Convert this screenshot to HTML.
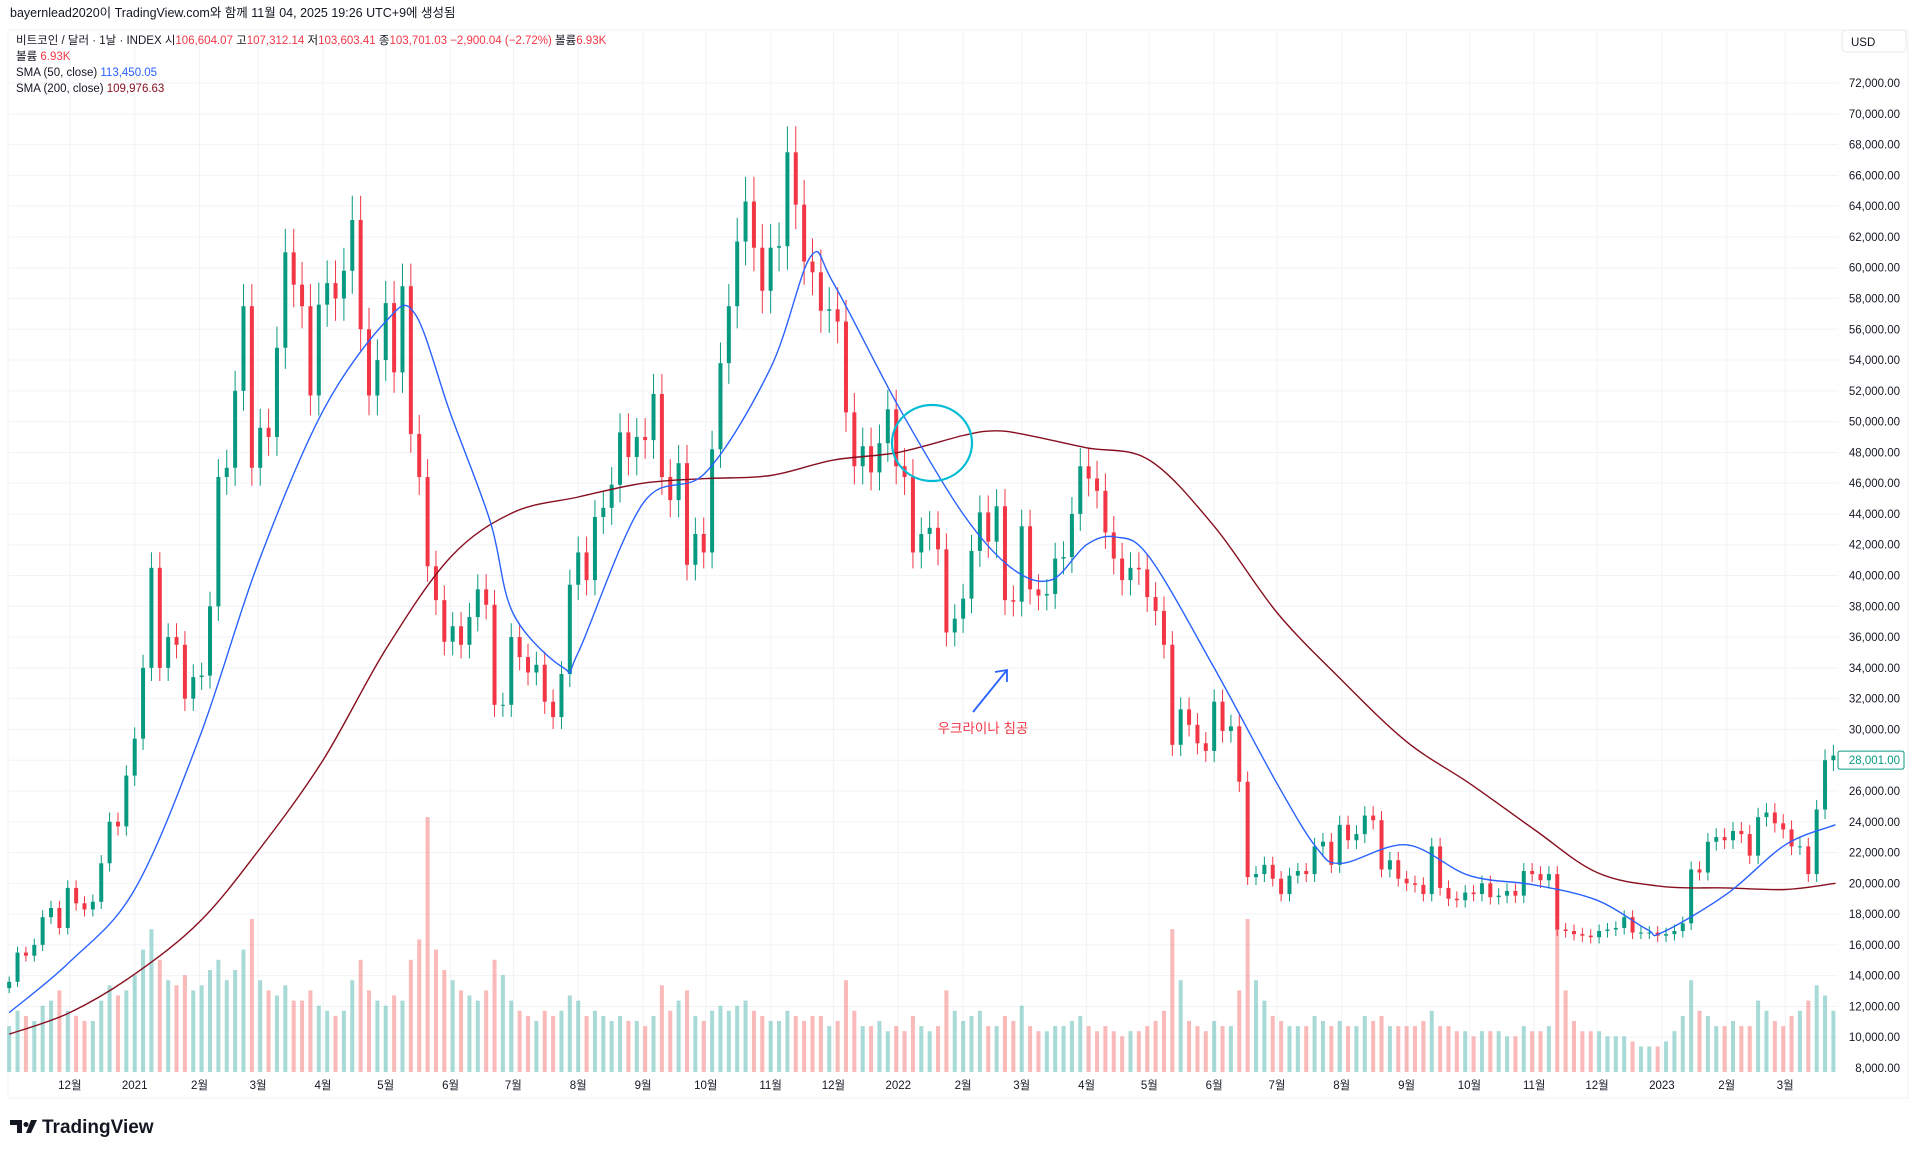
<!DOCTYPE html>
<html><head><meta charset="utf-8">
<style>
html,body{margin:0;padding:0;background:#fff;width:1920px;height:1155px;overflow:hidden;font-family:"Liberation Sans","Noto Sans CJK KR",sans-serif;}
svg{position:absolute;left:0;top:0}
</style></head>
<body>
<svg id="chart" width="1920" height="1155">
  <rect x="8" y="30" width="1900" height="1068" fill="none" stroke="#eef0f4"/>
  <g id="grid"></g>
  <g id="vol"></g>
  <g id="candles"></g>
  <g id="smas"></g>
  <g id="yaxis"></g>
  <g id="xaxis"></g>
  <text x="10" y="17" font-size="12.5" fill="#131722">bayernlead2020이 TradingView.com와 함께 11월 04, 2025 19:26 UTC+9에 생성됨</text>
  <text x="16" y="44" font-size="11.5" fill="#131722">비트코인 / 달러 · 1날 · INDEX  시<tspan fill="#f23645">106,604.07</tspan>  고<tspan fill="#f23645">107,312.14</tspan>  저<tspan fill="#f23645">103,603.41</tspan>  종<tspan fill="#f23645">103,701.03  −2,900.04 (−2.72%)</tspan>  볼륨<tspan fill="#f23645">6.93K</tspan></text>
  <text x="16" y="60" font-size="11.5" fill="#131722">볼륨  <tspan fill="#f23645">6.93K</tspan></text>
  <text x="16" y="76" font-size="11.5" fill="#131722">SMA (50, close)  <tspan fill="#2962ff">113,450.05</tspan></text>
  <text x="16" y="92" font-size="11.5" fill="#131722">SMA (200, close)  <tspan fill="#880e1f">109,976.63</tspan></text>
  <rect x="1842" y="30" width="64" height="22" rx="4" fill="#fff" stroke="#e6e8ee"/>
  <text x="1851" y="46" font-size="11.5" fill="#131722">USD</text>
  <ellipse cx="932" cy="443" rx="40" ry="38" fill="none" stroke="#00bcd4" stroke-width="2.2"/>
  <line x1="973" y1="712" x2="1007" y2="670" stroke="#2962ff" stroke-width="1.8"/>
  <polyline points="995,672 1007,670 1007,682" fill="none" stroke="#2962ff" stroke-width="1.8"/>
  <text x="983" y="733" font-size="13.5" fill="#f23645" text-anchor="middle">우크라이나 침공</text>
  <g>
    <path d="M10 1120h12v13h-5v-8h-7z M26 1122a2.5 2.5 0 1 0 0.01 0z M31 1120h6l-6 13h-5z" fill="#131722"/>
    <text x="42" y="1133" font-size="19" font-weight="bold" fill="#131722">TradingView</text>
  </g>
</svg>
<script>
// ---- data ----
const startDay = -60; // days from 2021-01-01
const stepDays = 4;
const closes = [13.6,15.5,15.3,16.0,17.8,18.4,17.1,19.7,18.7,18.3,18.8,21.3,24.0,23.7,27.0,
29.4,34.0,40.5,34.0,36.0,35.5,32.0,33.4,33.5,38.0,
46.4,47.0,52.0,57.5,47.0,49.6,49.0,54.8,61.0,58.9,
57.5,51.7,57.6,59.0,58.0,59.8,63.1,56.0,51.7,54.0,
57.7,53.2,58.8,49.2,46.4,40.6,38.4,35.7,36.7,35.5,
37.3,39.1,38.1,31.6,31.6,36.0,34.7,33.7,34.2,31.8,
30.8,33.6,39.4,41.5,39.7,43.8,44.4,45.9,49.3,47.7,
49.0,48.8,51.8,46.4,44.9,47.3,40.7,42.7,41.5,48.2,
53.8,57.5,61.7,64.3,61.3,58.5,61.3,61.4,67.5,64.1,
60.4,59.7,57.2,57.3,56.5,50.6,47.1,48.4,46.7,48.6,
50.8,47.1,
46.4,41.5,42.7,43.1,41.7,36.3,37.2,38.5,41.6,44.1,
42.2,44.5,38.4,38.3,43.2,39.1,38.7,38.8,41.1,41.2,
44.0,47.1,46.3,45.5,42.8,41.1,39.7,40.5,40.4,38.6,
37.7,35.5,29.0,31.3,30.3,29.1,28.6,31.8,29.9,30.2,
26.6,20.4,20.6,21.2,20.3,19.3,20.5,20.8,20.6,22.4,
22.7,21.2,23.8,22.8,23.2,24.4,24.1,20.9,21.5,20.3,
20.0,19.9,19.3,22.4,19.7,19.0,18.9,19.4,19.3,20.0,
19.1,19.2,19.5,19.2,20.8,20.6,20.2,20.6,17.0,16.9,
16.7,16.6,16.5,16.9,17.0,17.1,17.8,16.8,16.8,16.8,
16.6,
16.7,16.9,17.4,20.9,20.7,22.7,23.0,22.8,23.4,23.2,21.8,24.3,24.6,23.9,23.5,22.4,22.4,20.6,24.8,28.0,28.3];
const volumes = [45,60,55,50,65,70,80,60,55,50,50,70,85,75,80,
95,120,140,110,90,85,95,80,85,100,110,90,100,120,150,90,80,75,85,70,
70,80,65,60,55,60,90,110,80,70,65,75,70,110,130,250,120,100,90,80,
75,70,80,110,95,70,60,55,50,60,55,60,75,70,55,60,55,50,55,50,
50,45,55,85,60,70,80,55,50,60,65,60,65,70,60,55,50,50,60,55,
50,55,55,45,50,90,60,45,45,50,40,45,
40,55,45,40,45,80,60,50,55,60,45,45,55,50,65,45,40,40,45,45,
50,55,45,40,45,40,35,40,40,45,50,60,140,90,50,45,40,50,45,45,
80,150,90,70,55,50,45,45,45,55,50,45,50,45,45,55,50,55,45,45,
45,45,50,60,45,45,40,40,35,40,40,40,35,35,45,40,40,45,140,80,
50,40,40,40,35,35,35,30,25,25,25,
30,40,55,90,60,55,45,45,50,45,45,70,60,50,45,55,60,70,85,75,60];
const sma50Days = [-60,-31,0,31,59,90,120,134,151,170,181,205,212,243,273,304,323,334,365,396,419,438,455,469,485,516,546,565,577,608,638,669,699,723,730,761,789,813];
const sma50Vals = [11.6,14.9,19.6,29.5,40.8,50.7,56.5,57.0,50.5,43.5,37.5,34.0,35.0,44.7,46.7,53.5,60.7,59.0,51.0,44.0,40.5,39.7,42.0,42.5,41.2,34.0,26.5,22.3,21.3,22.5,20.5,19.9,18.9,17.0,16.8,19.3,22.5,23.8];
const sma200Days = [-60,-31,0,31,59,90,120,151,181,212,243,273,304,334,365,396,410,424,455,485,516,546,577,608,638,669,699,730,761,789,813];
const sma200Vals = [10.2,11.6,14.1,17.5,22.1,28.0,35.2,41.2,44.1,45.1,46.0,46.3,46.5,47.5,48.0,49.1,49.4,49.2,48.3,47.5,43.2,37.6,33.2,29.2,26.5,23.5,20.7,19.8,19.7,19.6,20.0];
const priceTicks = [8,10,12,14,16,18,20,22,24,26,28,30,32,34,36,38,40,42,44,46,48,50,52,54,56,58,60,62,64,66,68,70,72];
const monthLabels = ['12월','2021','2월','3월','4월','5월','6월','7월','8월','9월','10월','11월','12월','2022','2월','3월','4월','5월','6월','7월','8월','9월','10월','11월','12월','2023','2월','3월'];
const monthDays = [-31,0,31,59,90,120,151,181,212,243,273,304,334,365,396,424,455,485,516,546,577,608,638,669,699,730,761,789];
const lastPrice = 28001;

// ---- axes ----
const NS='http://www.w3.org/2000/svg';
const xOf = d => 134.7 + d*2.092;
const yOf = p => 1068 - (p-8)/2*30.78;   // p in thousands
const volBase = 1072, volScale = 1.02;
function mk(tag, attrs, parent){const e=document.createElementNS(NS,tag);for(const k in attrs)e.setAttribute(k,attrs[k]);parent.appendChild(e);return e;}

const grid=document.getElementById('grid'), yaxis=document.getElementById('yaxis'), xaxis=document.getElementById('xaxis');
priceTicks.forEach(p=>{
  const y=yOf(p);
  const l=mk('line',{x1:8,x2:1838,y1:y,y2:y,stroke:'#f2f3f6'},grid);
  
  
  const t=mk('text',{x:1900,y:y+4,'font-size':11.5,'text-anchor':'end',fill:'#131722'},yaxis);
  
  
  t.textContent=(p*1000).toLocaleString('en-US')+'.00';
});
monthDays.forEach((d,i)=>{
  const x=xOf(d);
  const l=mk('line',{x1:x,x2:x,y1:30,y2:1072,stroke:'#f2f3f6'},grid);
  
  
  const t=mk('text',{x:x,y:1089,'font-size':11.5,'text-anchor':'middle',fill:'#131722'},xaxis);
  
  
  t.textContent=monthLabels[i];
});
const axl=mk('line',{x1:8,x2:1908,y1:1098,y2:1098,stroke:'#eef0f4'},xaxis);



// ---- candles & volume ----
const cg=document.getElementById('candles'), vg=document.getElementById('vol');
closes.forEach((c,i)=>{
  const o = i>0 ? closes[i-1] : c*0.97;
  const up = c>=o;
  const col = up ? '#089981' : '#f23645';
  const x = xOf(startDay + i*stepDays);
  const hi=Math.max(o,c), lo=Math.min(o,c);
  const w=mk('line',{x1:x,x2:x,y1:yOf(hi*1.025),y2:yOf(lo*0.975),stroke:col,'stroke-width':1},cg);
  
  
  const yt=yOf(hi), yb=yOf(lo);
  const b=mk('rect',{x:x-2,y:yt,width:4,height:Math.max(1,yb-yt),fill:col},cg);
  
  
  const h=volumes[i]*volScale;
  const v=mk('rect',{x:x-2,y:volBase-h,width:4,height:h,fill:up?'#26a69a':'#ef5350','fill-opacity':0.4},vg);
  
  
});

// ---- SMAs (smooth curve through read points) ----
const sg=document.getElementById('smas');
function line(days, vals, col, name){
  const P=days.map((d,i)=>[xOf(d),yOf(vals[i])]);
  let dstr='M'+P[0][0].toFixed(1)+','+P[0][1].toFixed(1);
  for(let i=0;i<P.length-1;i++){
    const p0=P[Math.max(0,i-1)],p1=P[i],p2=P[i+1],p3=P[Math.min(P.length-1,i+2)];
    const c1=[p1[0]+(p2[0]-p0[0])/6,p1[1]+(p2[1]-p0[1])/6];
    const c2=[p2[0]-(p3[0]-p1[0])/6,p2[1]-(p3[1]-p1[1])/6];
    dstr+=' C'+c1.map(v=>v.toFixed(1)).join(',')+' '+c2.map(v=>v.toFixed(1)).join(',')+' '+p2.map(v=>v.toFixed(1)).join(',');
  }
  const p=mk('path',{d:dstr,fill:'none',stroke:col,'stroke-width':1.4},sg);
  
  
}
line(sma200Days,sma200Vals,'#880e1f','sma200-line');
line(sma50Days,sma50Vals,'#2962ff','sma50-line');

// ---- last price label ----
const ly=yOf(lastPrice/1000);
const pr=mk('rect',{x:1838,y:ly-9,width:66,height:18,rx:2,fill:'#fff',stroke:'#089981'},yaxis);


const pt=mk('text',{x:1900,y:ly+4,'font-size':11.5,'text-anchor':'end',fill:'#089981'},yaxis);


pt.textContent=lastPrice.toLocaleString('en-US')+'.00';
</script>
</body></html>
